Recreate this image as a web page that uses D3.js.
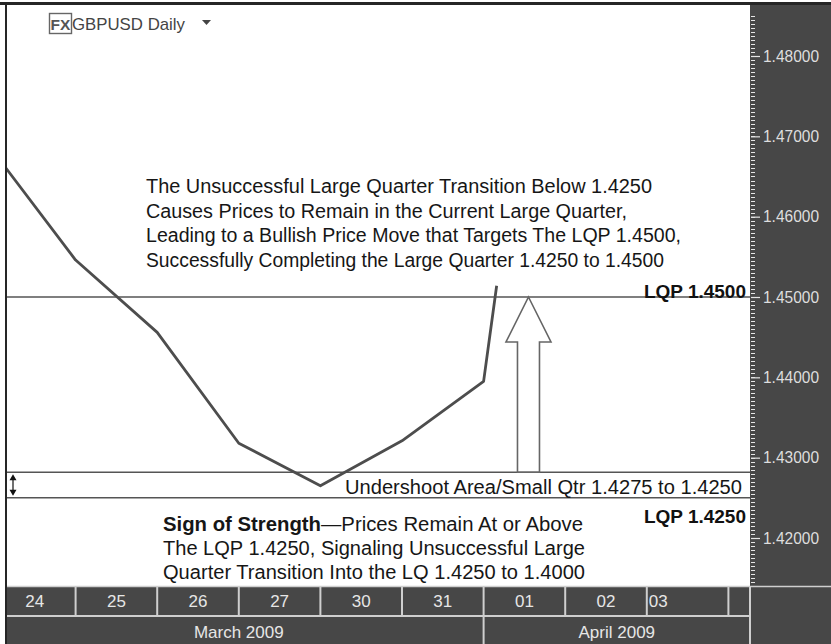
<!DOCTYPE html>
<html>
<head>
<meta charset="utf-8">
<script src="https://cdn.jsdelivr.net/npm/d3@7"></script>
<style>
  body { margin: 0; background: #fff; }
  svg { display: block; font-family: "Liberation Sans", Arial, sans-serif; }
</style>
</head>
<body>
<svg id="chart"></svg>
<script>
// trading days on the bottom axis, one slot each
const days = ['24', '25', '26', '27', '30', '31', '01', '02', '03'];
const months = ['March 2009', 'April 2009'];
const monthStart = [0, 6];

// price path, x is the day-slot boundary index
const priceIndex = [0, 1, 2, 3, 4, 5, 6, 6.16];
const priceValues = [1.4680, 1.4546, 1.4456, 1.4318, 1.4265, 1.4321, 1.4395, 1.4514];

const yTicks = [1.42, 1.43, 1.44, 1.45, 1.46, 1.47, 1.48];

// quarter levels
const lqpUpper = 1.4500;
const undershootTop = 1.4282;
const lqpLower = 1.4250;
const arrowIndex = 6.55;

const upperNote = [
    'The Unsuccessful Large Quarter Transition Below 1.4250',
    'Causes Prices to Remain in the Current Large Quarter,',
    'Leading to a Bullish Price Move that Targets The LQP 1.4500,',
    'Successfully Completing the Large Quarter 1.4250 to 1.4500'
];
const lowerNoteBold = 'Sign of Strength';
const lowerNote = [
    '\u2014Prices Remain At or Above',
    'The LQP 1.4250, Signaling Unsuccessful Large',
    'Quarter Transition Into the LQ 1.4250 to 1.4000'
];

const W = 831, H = 644;
const plot = { left: 7, right: 750, top: 5, bottom: 586 };
const panel = '#474747';
const light = '#cfcfcf';
const font = '"Liberation Sans", Arial, sans-serif';

const svg = d3.select('#chart').attr('width', W).attr('height', H);

const x = d3.scaleLinear().domain([0, 10]).range([-6, 810]);
const y = d3.scaleLinear().domain([1.42, 1.48]).range([538, 56]);

svg.append('rect').attr('width', W).attr('height', H).attr('fill', '#fff');

svg.append('defs').append('clipPath').attr('id', 'plot-clip')
    .append('rect')
    .attr('x', plot.left).attr('y', plot.top)
    .attr('width', plot.right - plot.left).attr('height', plot.bottom - plot.top);

// dark panels: price axis on the right, date band at the bottom
svg.append('rect')
    .attr('x', plot.right).attr('y', plot.top)
    .attr('width', W - plot.right).attr('height', H - plot.top)
    .attr('fill', panel);
svg.append('rect')
    .attr('x', plot.left).attr('y', plot.bottom)
    .attr('width', plot.right - plot.left).attr('height', H - plot.bottom)
    .attr('fill', panel);

// outer frame
svg.append('rect').attr('x', 0).attr('y', 2).attr('width', W).attr('height', 3).attr('fill', '#262626');
svg.append('rect').attr('x', 5).attr('y', 2).attr('width', 2).attr('height', H - 2).attr('fill', '#262626');

const chart = svg.append('g').attr('clip-path', 'url(#plot-clip)');

// level lines
[lqpUpper, undershootTop, lqpLower].forEach(v => {
    chart.append('line')
        .attr('x1', plot.left).attr('x2', plot.right)
        .attr('y1', y(v)).attr('y2', y(v))
        .attr('stroke', '#555').attr('stroke-width', 1.5);
});

// price path
const line = d3.line()
    .x((d, i) => x(priceIndex[i]))
    .y(d => y(d));

chart.append('path')
    .datum(priceValues)
    .attr('d', line)
    .attr('fill', 'none')
    .attr('stroke', '#4d4d4d')
    .attr('stroke-width', 2.8)
    .attr('stroke-linejoin', 'round');

// hollow target arrow from the undershoot zone up to LQP 1.4500
const ax = x(arrowIndex);
const tipY = y(lqpUpper), baseY = y(undershootTop);
const headH = 45, headW = 22.5, shaftW = 11;
chart.append('path')
    .attr('d', `M${ax},${tipY} L${ax + headW},${tipY + headH} L${ax + shaftW},${tipY + headH}
        L${ax + shaftW},${baseY} L${ax - shaftW},${baseY} L${ax - shaftW},${tipY + headH}
        L${ax - headW},${tipY + headH} Z`)
    .attr('fill', '#fff')
    .attr('stroke', '#666')
    .attr('stroke-width', 1.6);

// small double arrow marking the undershoot band
const dax = 13;
const dTop = y(undershootTop) + 2, dBot = y(lqpLower) - 2;
chart.append('line')
    .attr('x1', dax).attr('x2', dax).attr('y1', dTop + 4).attr('y2', dBot - 4)
    .attr('stroke', '#111').attr('stroke-width', 1.2);
chart.append('path')
    .attr('d', `M${dax},${dTop} l-3.5,6 l7,0 Z M${dax},${dBot} l-3.5,-6 l7,0 Z`)
    .attr('fill', '#111');

// title
svg.append('rect')
    .attr('x', 49.5).attr('y', 13.5).attr('width', 22).attr('height', 20)
    .attr('fill', 'none').attr('stroke', '#666').attr('stroke-width', 1.4);
svg.append('text')
    .attr('x', 60.5).attr('y', 29.5).attr('text-anchor', 'middle')
    .attr('font-size', 15.5).attr('font-weight', 'bold').attr('fill', '#555')
    .text('FX');
svg.append('text')
    .attr('x', 72).attr('y', 30)
    .attr('font-size', 17).attr('fill', '#444')
    .attr('textLength', 113).attr('lengthAdjust', 'spacingAndGlyphs')
    .text('GBPUSD Daily');
svg.append('path')
    .attr('d', 'M202,20 l9,0 l-4.5,5 Z')
    .attr('fill', '#444');

// annotations
const upperWidths = [506, 481, 535, 518];
svg.append('g').selectAll('text')
    .data(upperNote)
    .join('text')
    .attr('x', 146)
    .attr('y', (d, i) => 193 + i * 24.7)
    .attr('font-size', 20)
    .attr('fill', '#161616')
    .attr('textLength', (d, i) => upperWidths[i])
    .attr('lengthAdjust', 'spacingAndGlyphs')
    .text(d => d);

const lowerWidths = [420, 422, 422];
const lower = svg.append('g');
lowerNote.forEach((d, i) => {
    const t = lower.append('text')
        .attr('x', 163)
        .attr('y', 531 + i * 24)
        .attr('font-size', 20)
        .attr('fill', '#161616')
        .attr('textLength', lowerWidths[i])
        .attr('lengthAdjust', 'spacingAndGlyphs');
    if (i === 0) {
        t.append('tspan').attr('font-weight', 'bold').text(lowerNoteBold);
    }
    t.append('tspan').text(d);
});

svg.append('text')
    .attr('x', 742).attr('y', y(lqpLower) - 4)
    .attr('text-anchor', 'end')
    .attr('font-size', 20).attr('fill', '#161616')
    .attr('textLength', 397).attr('lengthAdjust', 'spacingAndGlyphs')
    .text('Undershoot Area/Small Qtr 1.4275 to 1.4250');

svg.append('text')
    .attr('x', 746).attr('y', y(lqpUpper) + 1)
    .attr('text-anchor', 'end')
    .attr('font-size', 19).attr('font-weight', 'bold').attr('fill', '#111')
    .text('LQP 1.4500');
svg.append('text')
    .attr('x', 746).attr('y', y(lqpLower) + 25)
    .attr('text-anchor', 'end')
    .attr('font-size', 19).attr('font-weight', 'bold').attr('fill', '#111')
    .text('LQP 1.4250');

// right price axis
const minorTicks = d3.range(1.4125, 1.4851, 0.0005).filter(v => y(v) > plot.top + 1 && y(v) < plot.bottom - 2);
svg.append('g').selectAll('line')
    .data(minorTicks)
    .join('line')
    .attr('x1', plot.right + 1).attr('x2', plot.right + 5)
    .attr('y1', d => Math.round(y(d)) + 0.5).attr('y2', d => Math.round(y(d)) + 0.5)
    .attr('stroke', '#e6e6e6').attr('stroke-width', 1);

const yAxis = d3.axisRight(y)
    .tickValues(yTicks)
    .tickSize(9)
    .tickPadding(3)
    .tickFormat(d3.format('.5f'));

const yAxisGroup = svg.append('g')
    .attr('transform', `translate(${plot.right + 1},0)`)
    .call(yAxis);
yAxisGroup.attr('font-family', font);
yAxisGroup.select('.domain').remove();
yAxisGroup.selectAll('line').attr('stroke', '#e6e6e6').attr('stroke-width', 1.2);
yAxisGroup.selectAll('text')
    .attr('fill', '#dedede')
    .attr('font-size', 16)
    .attr('textLength', 56)
    .attr('lengthAdjust', 'spacingAndGlyphs');

// bottom date band
const band = svg.append('g');
const dayTop = plot.bottom, dayBot = 615, monthBot = H;

band.append('line')
    .attr('x1', plot.left).attr('x2', W).attr('y1', dayTop + 0.5).attr('y2', dayTop + 0.5)
    .attr('stroke', light).attr('stroke-width', 1.5);
band.append('line')
    .attr('x1', plot.left).attr('x2', plot.right).attr('y1', dayBot + 1).attr('y2', dayBot + 1)
    .attr('stroke', light).attr('stroke-width', 2);
band.append('line')
    .attr('x1', plot.right).attr('x2', plot.right).attr('y1', dayTop).attr('y2', monthBot)
    .attr('stroke', light).attr('stroke-width', 2);

band.selectAll('.day-sep')
    .data(d3.range(1, days.length + 1))
    .join('line')
    .attr('class', 'day-sep')
    .attr('x1', d => x(d)).attr('x2', d => x(d))
    .attr('y1', dayTop).attr('y2', dayBot)
    .attr('stroke', light).attr('stroke-width', 2);

band.selectAll('.day-label')
    .data(days)
    .join('text')
    .attr('class', 'day-label')
    .attr('x', (d, i) => i === days.length - 1 ? x(i) + 2 : Math.max(x(i + 0.5), 32))
    .attr('y', 607)
    .attr('text-anchor', (d, i) => i === days.length - 1 ? 'start' : 'middle')
    .attr('font-size', 17)
    .attr('fill', '#e6e6e6')
    .text(d => d);

band.selectAll('.month-sep')
    .data(monthStart.slice(1))
    .join('line')
    .attr('class', 'month-sep')
    .attr('x1', d => x(d)).attr('x2', d => x(d))
    .attr('y1', dayBot).attr('y2', monthBot)
    .attr('stroke', light).attr('stroke-width', 2);

band.selectAll('.month-label')
    .data(months)
    .join('text')
    .attr('class', 'month-label')
    .attr('x', (d, i) => {
        const a = x(monthStart[i]);
        const b = i + 1 < monthStart.length ? x(monthStart[i + 1]) : plot.right;
        return (a + b) / 2;
    })
    .attr('y', 638)
    .attr('text-anchor', 'middle')
    .attr('font-size', 17)
    .attr('fill', '#e6e6e6')
    .text(d => d);
</script>
</body>
</html>
